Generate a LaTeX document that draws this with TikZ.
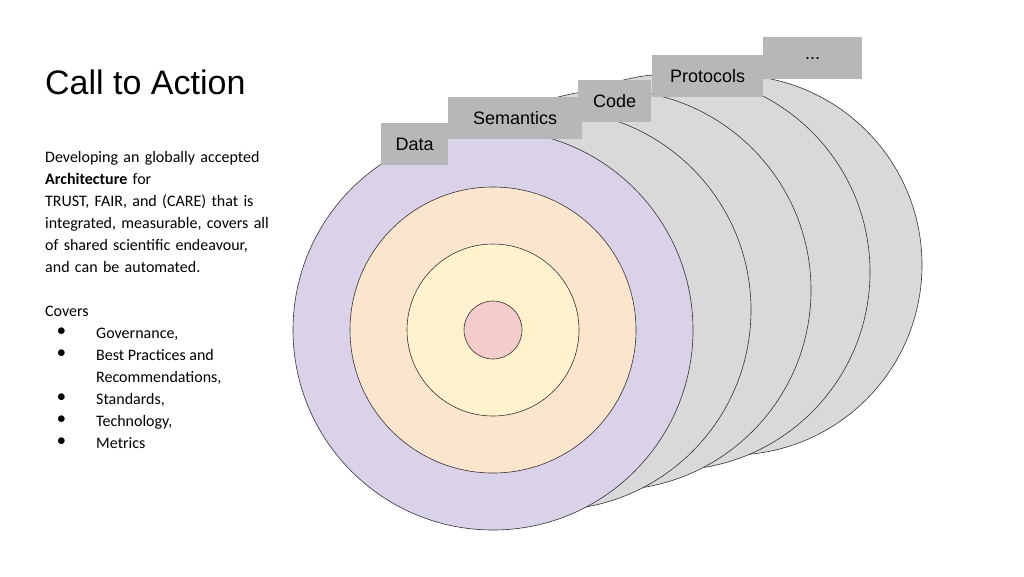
\documentclass[tikz,border=0pt]{standalone}
\usepackage{fontspec}
\setmainfont{Carlito}
\newfontfamily\headfont{Liberation Sans}
\usetikzlibrary{positioning}
\definecolor{layergray}{HTML}{D9D9D9}
\definecolor{tabgray}{HTML}{B7B7B7}
\definecolor{lilac}{HTML}{D9D2E9}
\definecolor{peach}{HTML}{FCE5CD}
\definecolor{cream}{HTML}{FFF2CC}
\definecolor{rose}{HTML}{F4CCCC}
\begin{document}
\begin{tikzpicture}[x=1pt,y=-1pt,
		layer/.style={circle,draw=black!80,line width=0.6pt,fill=layergray,inner sep=0pt},
		tab/.style={fill=tabgray,inner sep=0pt,anchor=north west,
			font=\headfont\fontsize{18}{20}\selectfont},
		bullet/.style={anchor=north west,inner sep=0pt,align=left,
			font=\fontsize{16}{22}\selectfont}]
		\useasboundingbox[fill=white] (0,0) rectangle (1024,576);
		% stacked layers, back to front
		\node[layer,minimum size=380] (l5) at (732,265) {};
		\node[layer,minimum size=396] (l4) at (672,272) {};
		\node[layer,minimum size=400] (l3) at (611,290) {};
		\node[layer,minimum size=400] (l2) at (551,310) {};
		\node[layer,minimum size=400,fill=lilac] (l1) at (493,330) {};
		\node[layer,minimum size=286,fill=peach] (c2) at (l1) {};
		\node[layer,minimum size=172,fill=cream] (c3) at (l1) {};
		\node[layer,minimum size=58,fill=rose] (c4) at (l1) {};
		% tabs
		\node[tab,minimum width=99,minimum height=42] (more) at (763,37) {...};
		\node[tab,minimum width=111,minimum height=42] (protocols) at (652,55) {Protocols};
		\node[tab,minimum width=73,minimum height=42] (code) at (578,80) {Code};
		\node[tab,minimum width=134,minimum height=42] (semantics) at (448,97) {Semantics};
		\node[tab,minimum width=67,minimum height=42] (data) at (381,123) {Data};
		% text
		\node[anchor=west,inner sep=0pt,font=\headfont\fontsize{34}{36}\selectfont] (title) at (45,82) {Call to Action};
		\node[bullet,text width=270] (intro) at (45,151) {Developing an globally accepted\\
			\textbf{Architecture} for\\
			TRUST, FAIR, and (CARE) that is\\
			integrated, measurable, covers all\\
			of shared scientific endeavour,\\
			and can be automated.\\[22pt]
			Covers};
		\node[bullet] (dots) at (57,328) {$\bullet$\\$\bullet$\\\\$\bullet$\\$\bullet$\\$\bullet$};
		\node[bullet] (items) at (96,328) {Governance,\\Best Practices and\\Recommendations,\\Standards,\\Technology,\\Metrics};
\end{tikzpicture}
\end{document}
